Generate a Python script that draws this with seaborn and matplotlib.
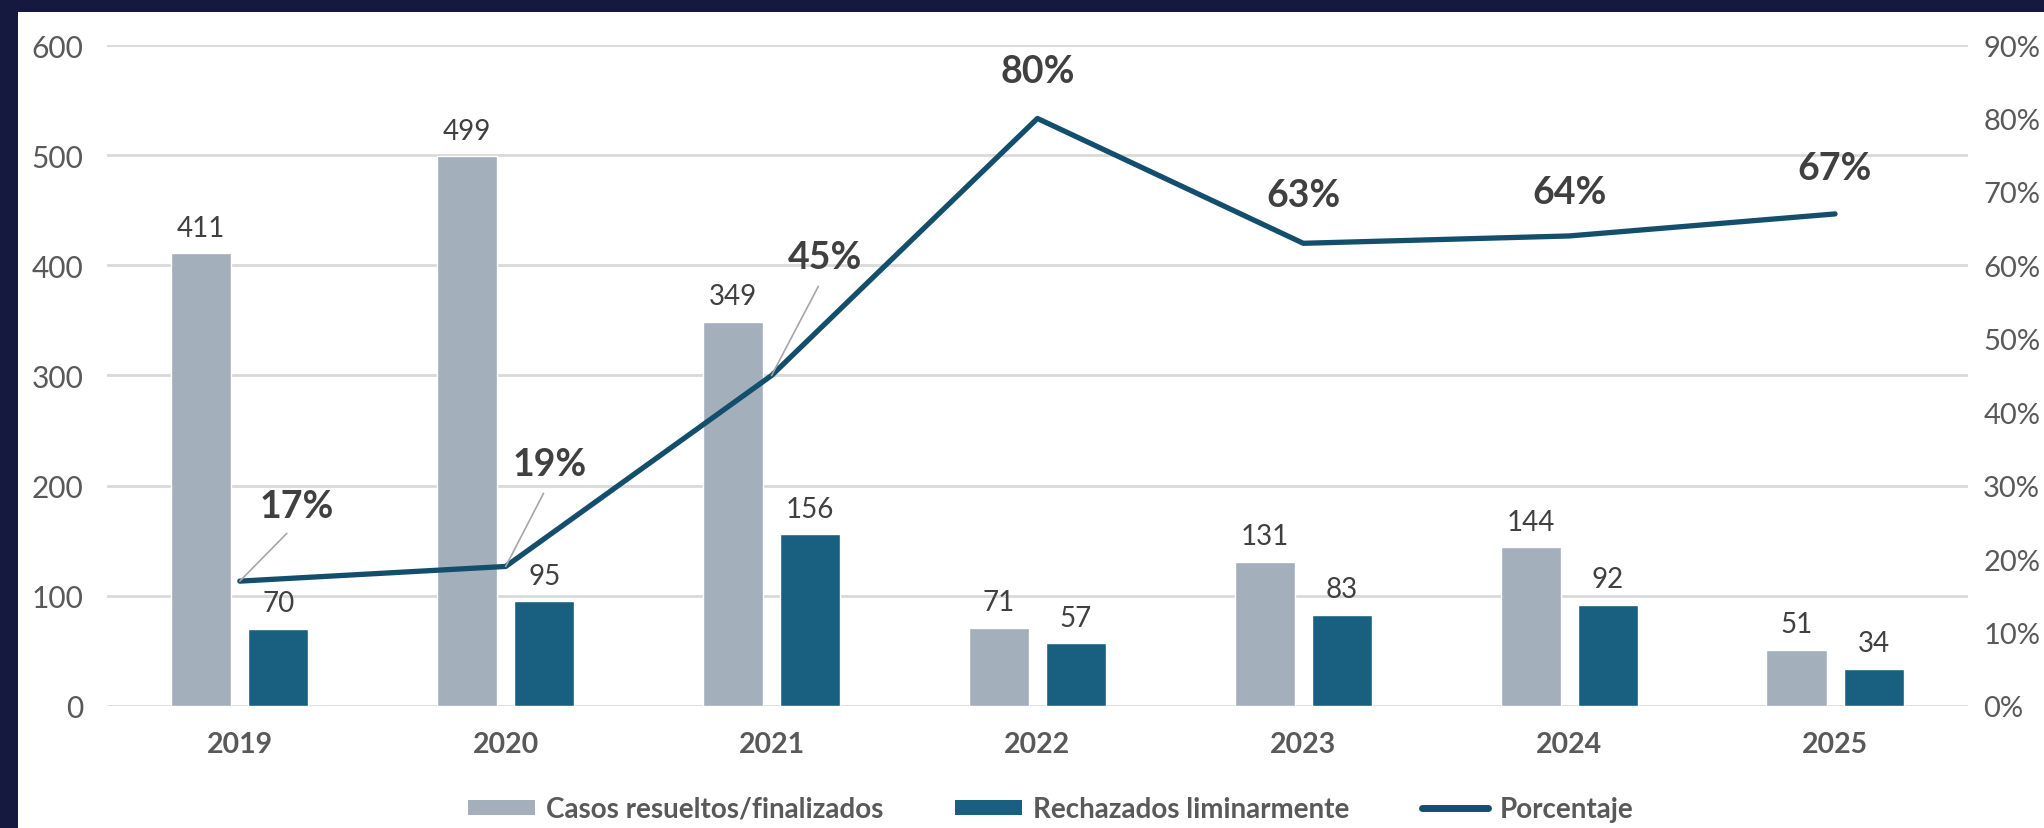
import pandas as pd
import matplotlib.pyplot as plt
import seaborn as sns
from matplotlib.patches import Patch, Rectangle
from matplotlib.lines import Line2D
from matplotlib.ticker import FuncFormatter

# Data
years = ['2019', '2020', '2021', '2022', '2023', '2024', '2025']
resueltos = [411, 499, 349, 71, 131, 144, 51]
rechazados = [70, 95, 156, 57, 83, 92, 34]
porcentaje = [17, 19, 45, 80, 63, 64, 67]

series_names = ['Casos resueltos/finalizados', 'Rechazados liminarmente', 'Porcentaje']

GREY = '#a3afbb'
BLUE = '#185f80'
LINE = '#134f6c'
NAVY = '#15183f'
TXT = '#595959'

sns.set_style('white')
plt.rcParams['font.family'] = ['Lato', 'DejaVu Sans']

df = pd.DataFrame({
    'year': years * 2,
    'serie': [series_names[0]] * len(years) + [series_names[1]] * len(years),
    'value': resueltos + rechazados,
})
df_line = pd.DataFrame({'year': years, 'pct': porcentaje})

fig = plt.figure(figsize=(20.44, 8.29), dpi=100)
ax = fig.add_axes([0.0523, 0.1472, 0.9105, 0.7973])

sns.barplot(data=df, x='year', y='value', hue='serie', palette=[GREY, BLUE],
            width=0.58, gap=0.22, ax=ax, legend=False, saturation=1)

ax.set_ylim(0, 600)
ax.set_xlim(-0.5, len(years) - 0.5)
ax.set_yticks(range(0, 601, 100))
ax.grid(axis='y', color='#d9d9d9', linewidth=2)
ax.set_axisbelow(True)
for s in ax.spines.values():
    s.set_visible(False)
ax.set_xlabel('')
ax.set_ylabel('')
ax.tick_params(axis='y', length=0, pad=17, labelsize=21.5, labelcolor=TXT)
ax.tick_params(axis='x', length=0, pad=18, labelsize=20.5, labelcolor=TXT)
for lbl in ax.get_xticklabels():
    lbl.set_fontweight('bold')

for cont in ax.containers:
    ax.bar_label(cont, padding=9, fontsize=20, color='#404040')

# percentage line on the secondary axis
ax2 = ax.twinx()
sns.lineplot(data=df_line, x='year', y='pct', color=LINE, linewidth=3.8,
             ax=ax2, sort=False)
ax2.set_ylim(0, 90)
ax2.set_yticks(range(0, 91, 10))
ax2.yaxis.set_major_formatter(FuncFormatter(lambda v, p: f'{v:.0f}%'))
ax2.tick_params(axis='y', length=0, pad=11, labelsize=21, labelcolor=TXT)
ax2.set_ylabel('')
for s in ax2.spines.values():
    s.set_visible(False)

# label offsets in pixels (dx, dy) and whether a leader line is drawn
pct_offsets = [(57, 75), (44, 102), (53, 118), (0, 47), (0, 48), (0, 44), (0, 46)]
pct_leader = [True, True, True, False, False, False, False]
for i, (yr, p) in enumerate(zip(years, porcentaje)):
    dx, dy = pct_offsets[i]
    arrow = None
    if pct_leader[i]:
        arrow = dict(arrowstyle='-', color='#a6a6a6', lw=1.2,
                     shrinkA=7, shrinkB=0, relpos=(0.5, 0.0))
    ax2.annotate(f'{p}%', xy=(i, p), xytext=(dx, dy), textcoords='offset pixels',
                 ha='center', va='center', fontsize=27, fontweight='bold',
                 color='#404040', arrowprops=arrow)

# legend
handles = [
    Patch(facecolor=GREY, edgecolor='none'),
    Patch(facecolor=BLUE, edgecolor='none'),
    Line2D([0], [0], color=LINE, linewidth=5),
]
leg = fig.legend(handles, series_names, loc='center', bbox_to_anchor=(0.514, 0.023),
                 ncol=3, frameon=False, handlelength=2.4, handleheight=0.45,
                 handletextpad=0.4, columnspacing=2.6,
                 prop={'size': 20, 'weight': 'bold'})
for t in leg.get_texts():
    t.set_color(TXT)

# dark frame strips at top and left
fig.patches.append(Rectangle((0, 1 - 13 / 829), 1, 13 / 829, transform=fig.transFigure,
                             facecolor=NAVY, edgecolor='none', zorder=-1))
fig.patches.append(Rectangle((0, 0), 18 / 2044, 1, transform=fig.transFigure,
                             facecolor=NAVY, edgecolor='none', zorder=-1))

fig.savefig('out.png', dpi=100)
